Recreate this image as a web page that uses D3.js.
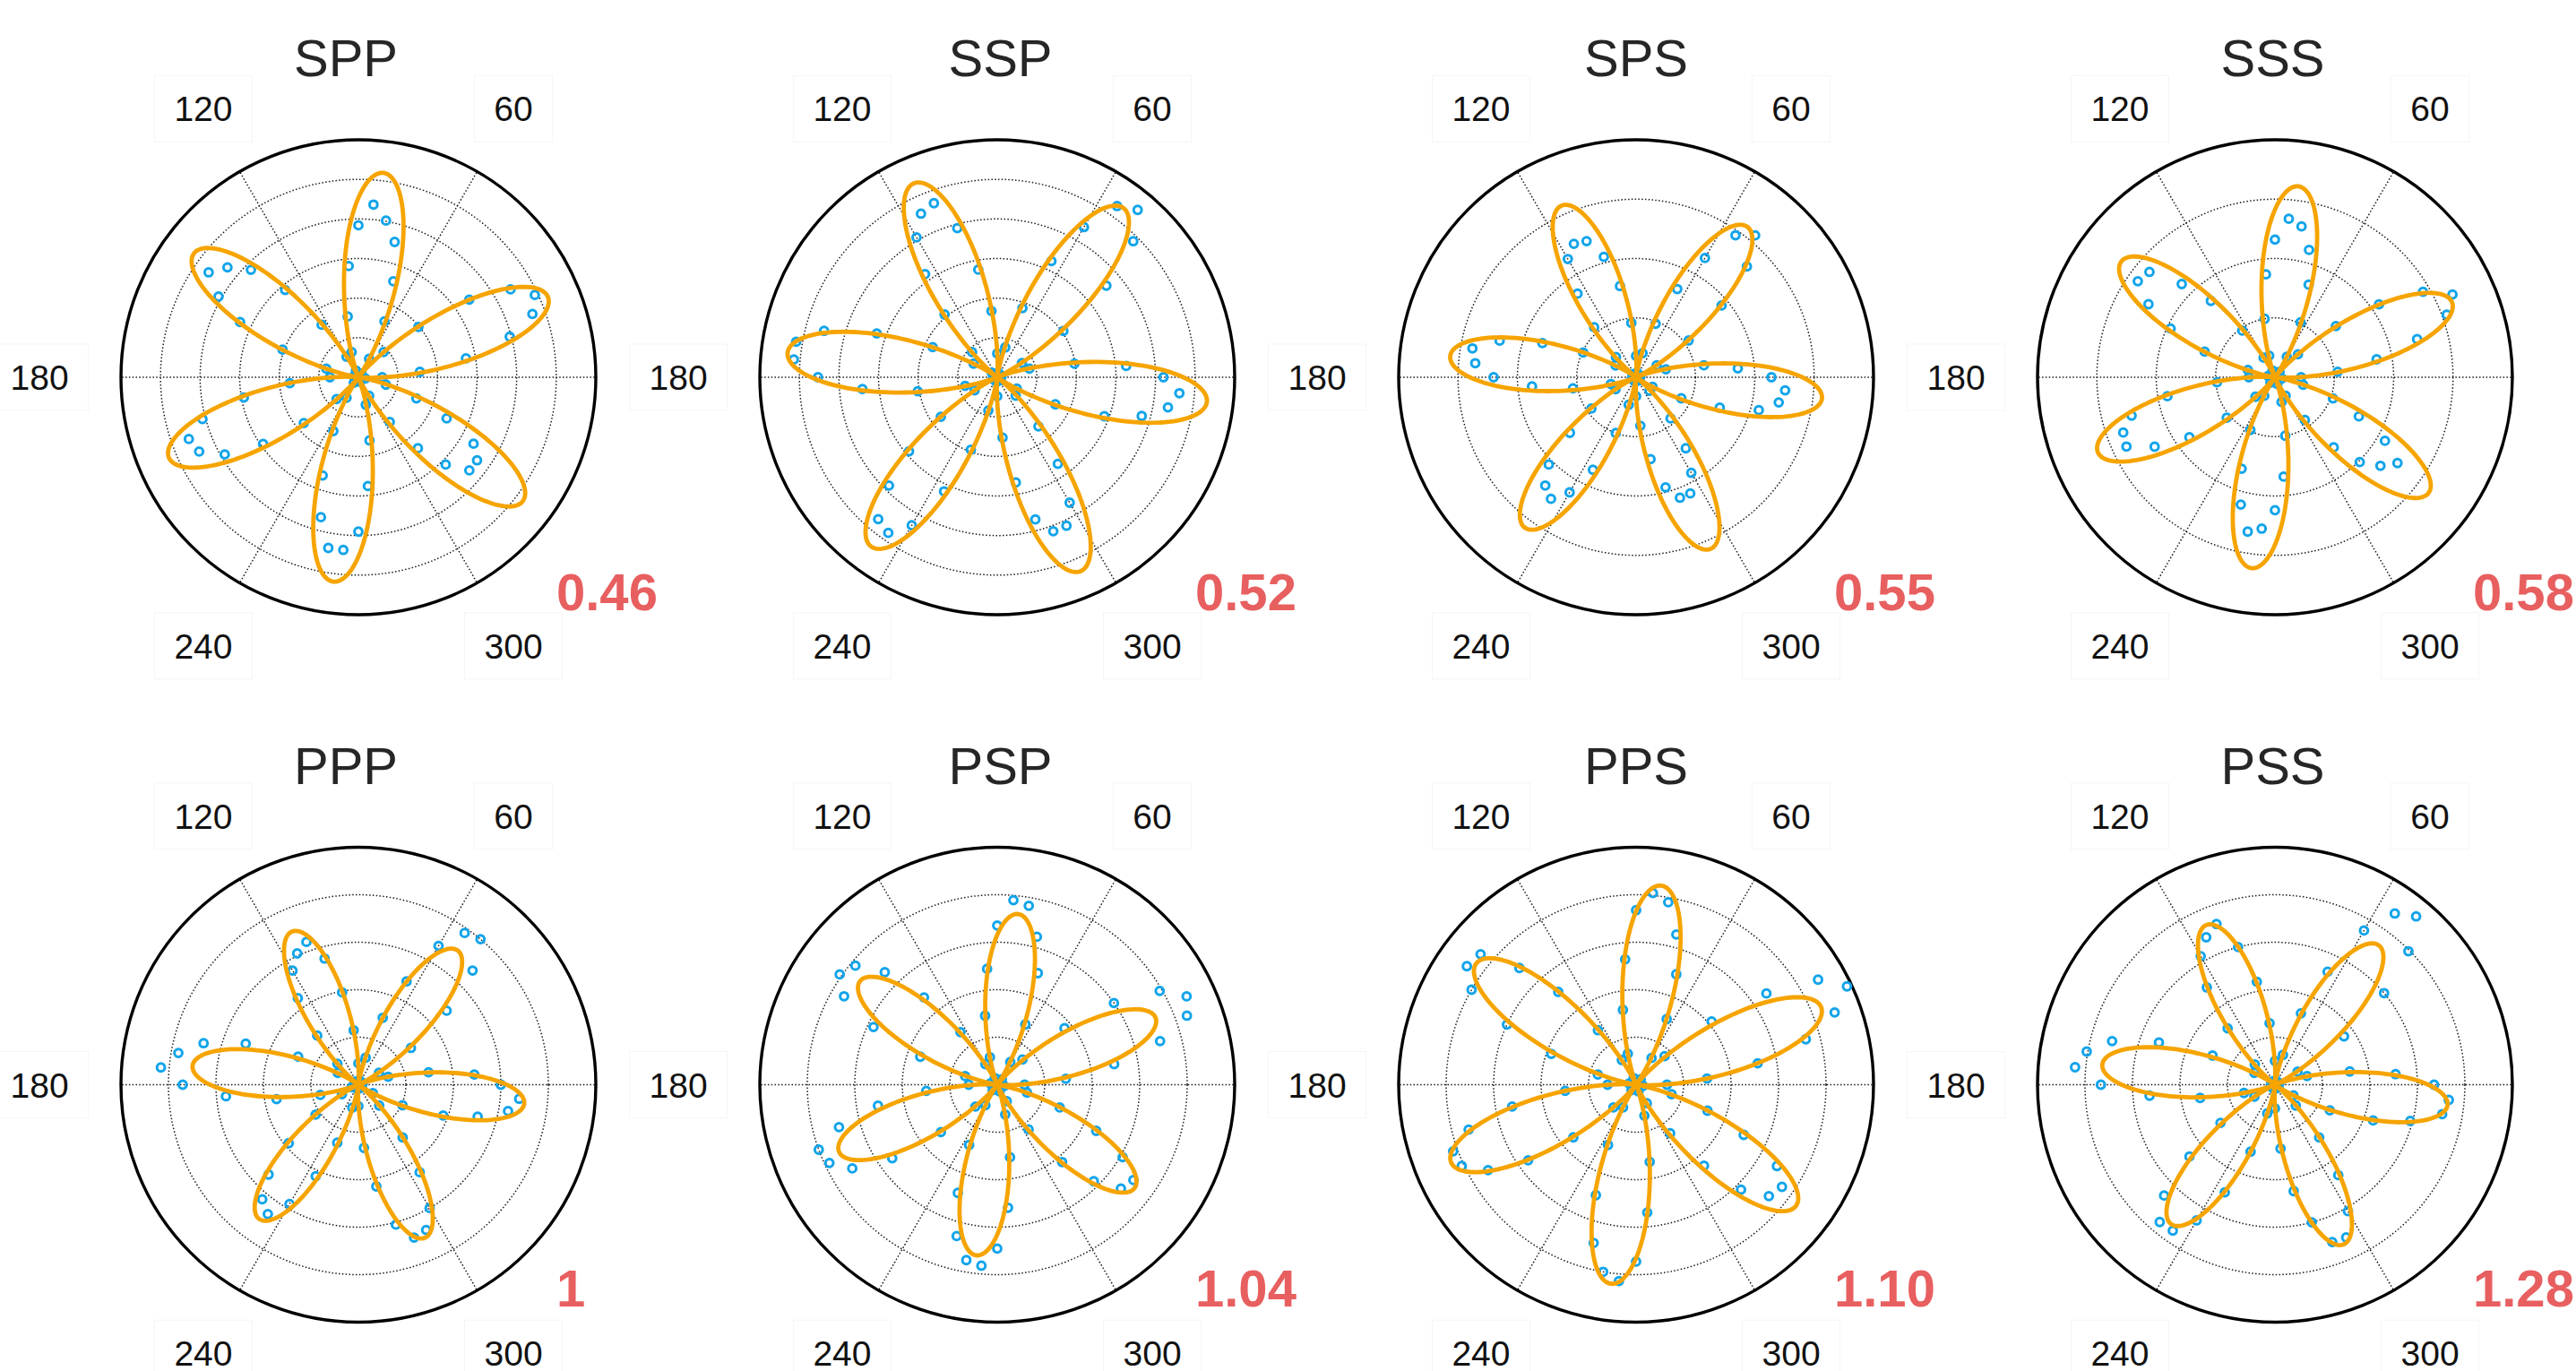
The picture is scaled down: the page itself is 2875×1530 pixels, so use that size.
<!DOCTYPE html>
<html><head><meta charset="utf-8">
<script src="https://cdn.jsdelivr.net/npm/d3@7/dist/d3.min.js"></script>
<style>html,body{margin:0;padding:0;background:#fff;}svg{display:block;}</style>
</head><body>
<svg id="chart" width="2875" height="1530"></svg>
<script>
// ---------- data ----------
const titles = ["SPP","SSP","SPS","SSS","PPP","PSP","PPS","PSS"];
const ratioLabels = ["0.46","0.52","0.55","0.58","1","1.04","1.10","1.28"];
const angleTickLabels = [60,120,180,240,300];
const spokeAngles = [0,60,120,180,240,300];
const ringCounts = [6,6,4,4,5,5,5,5];
const angles = [0,5,10,15,20,25,30,35,40,45,50,55,60,65,70,75,80,85,90,95,100,105,110,115,
  120,125,130,135,140,145,150,155,160,165,170,175,180,185,190,195,200,205,210,215,220,225,230,235,
  240,245,250,255,260,265,270,275,280,285,290,295,300,305,310,315,320,325,330,335,340,345,350,355];
const sppValues = [0.10,0.26,0.46,0.66,0.78,0.82,0.74,0.57,0.33,0.15,0.02,0.01, 0.09,0.26,0.43,0.59,0.67,0.73,0.64,0.47,0.26,0.11,0.03,0.01,
  0.10,0.27,0.48,0.64,0.72,0.77,0.68,0.55,0.34,0.14,0.02,0.01, 0.12,0.29,0.49,0.68,0.76,0.74,0.65,0.49,0.30,0.13,0.03,0.01,
  0.10,0.25,0.44,0.61,0.73,0.73,0.65,0.46,0.27,0.12,0.02,0.01, 0.09,0.23,0.39,0.52,0.61,0.61,0.56,0.41,0.26,0.12,0.03,0.01];
const sspValues = [0.70,0.545,0.33,0.14,0.02,0.01, 0.12,0.34,0.60,0.81,0.92,0.88, 0.73,0.54,0.31,0.13,0.02,0.01, 0.10,0.28,0.46,0.65,0.78,0.76,
  0.68,0.53,0.345,0.15,0.03,0.01, 0.115,0.30,0.54,0.755,0.86,0.86, 0.755,0.57,0.34,0.14,0.02,0.01, 0.11,0.29,0.485,0.645,0.78,0.80,
  0.72,0.53,0.325,0.145,0.02,0.01, 0.08,0.255,0.45,0.62,0.69,0.69, 0.61,0.445,0.27,0.11,0.02,0.01, 0.095,0.27,0.48,0.63,0.73,0.77];
const spsValues = [0.57,0.43,0.29,0.13,0.02,0.01, 0.10,0.27,0.47,0.66,0.78,0.73, 0.58,0.41,0.24,0.105,0.02,0.01, 0.09,0.23,0.39,0.525,0.61,0.62,
  0.575,0.43,0.275,0.12,0.02,0.01, 0.10,0.246,0.42,0.595,0.70,0.68, 0.60,0.44,0.27,0.11,0.02,0.01, 0.10,0.23,0.364,0.52,0.595,0.625,
  0.56,0.43,0.25,0.12,0.02,0.01, 0.08,0.205,0.35,0.48,0.54,0.54, 0.465,0.365,0.226,0.08,0.02,0.01, 0.08,0.21,0.375,0.535,0.61,0.63];
const sssValues = [0.11,0.265,0.435,0.62,0.77,0.825, 0.72,0.535,0.335,0.137,0.03,0.01, 0.10,0.255,0.415,0.555,0.645,0.67, 0.58,0.435,0.25,0.094,0.03,0.01,
  0.095,0.24,0.42,0.555,0.69,0.705, 0.615,0.485,0.315,0.118,0.03,0.01, 0.11,0.245,0.46,0.625,0.68,0.69, 0.585,0.44,0.265,0.116,0.03,0.01,
  0.09,0.245,0.41,0.555,0.66,0.64, 0.56,0.42,0.25,0.108,0.03,0.01, 0.09,0.22,0.385,0.505,0.58,0.63, 0.535,0.39,0.26,0.123,0.03,0.01];
const pppValues = [0.60,0.49,0.30,0.13,0.02,0.01, 0.10,0.27,0.485,0.68,0.80,0.78, 0.675,0.48,0.30,0.118,0.02,0.01, 0.09,0.23,0.395,0.55,0.64,0.61,
  0.555,0.445,0.27,0.125,0.02,0.01, 0.10,0.28,0.505,0.675,0.77,0.835, 0.74,0.56,0.35,0.166,0.03,0.01, 0.08,0.22,0.383,0.535,0.63,0.665,
  0.58,0.425,0.26,0.10,0.02,0.01, 0.09,0.267,0.435,0.61,0.685,0.675, 0.60,0.45,0.29,0.124,0.02,0.01, 0.07,0.205,0.38,0.52,0.64,0.68];
const pspValues = [0.115,0.29,0.50,0.71,0.85,0.88, 0.79,0.60,0.37,0.15,0.03,0.01, 0.11,0.28,0.50,0.645,0.765,0.78, 0.67,0.49,0.295,0.12,0.03,0.01,
  0.10,0.27,0.48,0.67,0.78,0.81, 0.745,0.575,0.345,0.14,0.03,0.01, 0.12,0.30,0.51,0.69,0.80,0.78, 0.705,0.54,0.31,0.13,0.03,0.01,
  0.10,0.28,0.485,0.66,0.75,0.765, 0.69,0.52,0.31,0.13,0.03,0.01, 0.08,0.23,0.425,0.575,0.68,0.70, 0.61,0.46,0.28,0.13,0.03,0.01];
const ppsValues = [0.13,0.30,0.52,0.74,0.89,0.98, 0.885,0.67,0.415,0.17,0.03,0.01, 0.13,0.305,0.495,0.655,0.78,0.81, 0.735,0.53,0.32,0.135,0.03,0.01,
  0.12,0.28,0.51,0.695,0.855,0.87, 0.80,0.60,0.38,0.167,0.03,0.01, 0.12,0.30,0.53,0.73,0.82,0.81, 0.72,0.555,0.345,0.135,0.03,0.01,
  0.11,0.28,0.495,0.69,0.80,0.83, 0.745,0.54,0.33,0.135,0.03,0.01, 0.09,0.25,0.445,0.625,0.73,0.75, 0.685,0.50,0.32,0.155,0.03,0.01];
const pssValues = [0.67,0.51,0.32,0.14,0.02,0.01, 0.11,0.355,0.60,0.795,0.925,0.88, 0.75,0.525,0.32,0.13,0.02,0.01, 0.10,0.26,0.44,0.60,0.72,0.685,
  0.625,0.50,0.31,0.12,0.02,0.01, 0.10,0.29,0.52,0.71,0.805,0.845, 0.733,0.53,0.32,0.135,0.02,0.01, 0.10,0.28,0.47,0.66,0.755,0.75,
  0.66,0.50,0.30,0.125,0.02,0.01, 0.10,0.27,0.455,0.60,0.705,0.71, 0.615,0.465,0.29,0.124,0.02,0.01, 0.09,0.255,0.44,0.59,0.715,0.735];
const seriesValues = [sppValues,sspValues,spsValues,sssValues,pppValues,pspValues,ppsValues,pssValues];
// fitted model I = A * cos^2(3(theta - phase))
const fitAmplitude = [0.867,0.889,0.788,0.810,0.703,0.724,0.845,0.732];
const fitPhase = [23,53.3,53.5,23,53.5,23,22.8,53.3];

// ---------- layout / style ----------
const colX = [400,1113,1826,2539];
const rowY = [421,1210.5];
const R = 265;
const titleDx = [-14,3.5,0,-2.5];
const ratioDy = [260,247];
const FONT = "'Liberation Sans', Arial, Helvetica, sans-serif";
const INK = "#262626";
const ORANGE = "#f6a400";
const BLUE = "#12a4ea";
const RED = "#e85f60";

const svg = d3.select("#chart");
svg.append("rect").attr("width",2875).attr("height",1530).attr("fill","#fff");

const angleScale = d3.scaleLinear().domain([0,360]).range([Math.PI/2, Math.PI/2 - 2*Math.PI]);

titles.forEach((title, i) => {
  const col = i % 4, row = Math.floor(i / 4);
  const cx = colX[col], cy = rowY[row];
  const rScale = d3.scaleLinear().domain([0,1]).range([0,R]);
  const g = svg.append("g").attr("transform", `translate(${cx},${cy})`);

  // rings
  const rings = d3.range(1, ringCounts[i]).map(k => k / ringCounts[i]);
  g.selectAll("circle.ring").data(rings).join("circle")
    .attr("r", d => rScale(d)).attr("fill","none")
    .attr("stroke","#1a1a1a").attr("stroke-width",1.5).attr("stroke-dasharray","1.5 2.3");
  // spokes
  g.selectAll("line.spoke").data(spokeAngles).join("line")
    .attr("x1",0).attr("y1",0)
    .attr("x2", d => d3.pointRadial(angleScale(d), R)[0])
    .attr("y2", d => d3.pointRadial(angleScale(d), R)[1])
    .attr("stroke","#1a1a1a").attr("stroke-width",1.5).attr("stroke-dasharray","1.5 2.3");
  // outer circle
  g.append("circle").attr("r", rScale(1)).attr("fill","none").attr("stroke","#000").attr("stroke-width",3.4);

  // data points
  const pts = angles.map((a, k) => [a, seriesValues[i][k]]);
  g.selectAll("circle.pt").data(pts).join("circle")
    .attr("cx", d => d3.pointRadial(angleScale(d[0]), rScale(d[1]))[0])
    .attr("cy", d => d3.pointRadial(angleScale(d[0]), rScale(d[1]))[1])
    .attr("r", 4.4).attr("fill","none").attr("stroke",BLUE).attr("stroke-width",3);

  // fit curve
  const fitTheta = d3.range(0, 360, 0.5);
  const fitPts = fitTheta.map(t => {
    const c = Math.cos(3 * (t - fitPhase[i]) * Math.PI / 180);
    return [t, fitAmplitude[i] * c * c];
  });
  const line = d3.lineRadial().angle(d => angleScale(d[0])).radius(d => rScale(d[1])).curve(d3.curveLinearClosed);
  g.append("path").attr("d", line(fitPts)).attr("fill","none").attr("stroke",ORANGE)
    .attr("stroke-width",4.8).attr("stroke-linejoin","round");

  // angle tick labels
  angleTickLabels.forEach(t => {
    const rad = t * Math.PI / 180;
    const rl = R * (1.269 + 0.074 * Math.abs(Math.cos(rad)));
    const lx = rl * Math.cos(rad), ly = -rl * Math.sin(rad);
    const lg = g.append("g");
    const rect = lg.append("rect");
    const txt = lg.append("text").attr("x", lx).attr("y", ly + 14)
      .attr("text-anchor","middle").attr("font-family",FONT).attr("font-size",39)
      .attr("fill","#111").text(t);
    const w = txt.node().getComputedTextLength() + 44;
    rect.attr("x", lx - w/2).attr("y", ly - 37).attr("width", w).attr("height", 74)
      .attr("fill","#fff").attr("stroke","#f5f5f5").attr("stroke-width",1);
  });

  // title
  svg.append("text").attr("x", cx + titleDx[col]).attr("y", cy - 336)
    .attr("text-anchor","middle").attr("font-family",FONT).attr("font-size",58)
    .attr("fill",INK).text(title);

  // ratio number
  svg.append("text").attr("x", cx + 221).attr("y", cy + ratioDy[row])
    .attr("font-family",FONT).attr("font-size",58).attr("font-weight","bold")
    .attr("fill",RED).text(ratioLabels[i]);
});
</script>
</body></html>
